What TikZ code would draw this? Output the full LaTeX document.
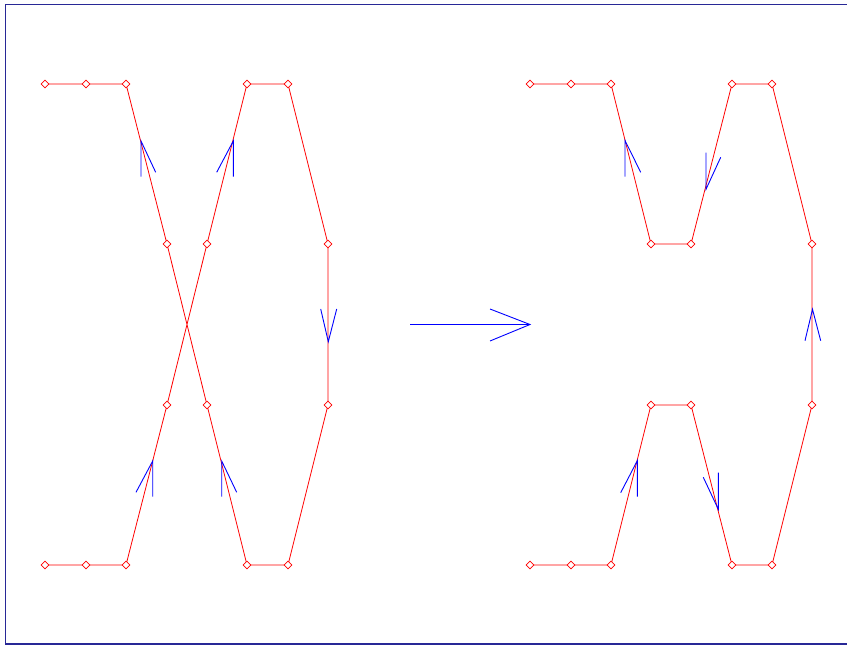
\documentclass[tikz,border=0pt]{standalone}
\usetikzlibrary{shapes.geometric}
\definecolor{framecol}{RGB}{40,40,150}
\definecolor{linered}{RGB}{255,0,0}
\definecolor{arrblue}{RGB}{0,0,255}
\begin{document}
\begin{tikzpicture}[x=1pt,y=-1pt,
  vtx/.style={diamond,draw=linered,line width=0.8pt,fill=white,minimum size=8pt,inner sep=0pt},
  edge/.style={draw=linered,line width=0.8pt},
  wing/.style={draw=arrblue,line width=0.9pt},
  framebox/.style={draw=framecol,line width=1.3pt}]
\useasboundingbox (0,0) rectangle (847,645);
\begin{scope}
\clip (0,0) rectangle (847,645);
\draw[framebox] (5.5,4.5) rectangle (860,644);
\end{scope}
% ---------- left figure ----------
\foreach \n/\x/\y in {a1/45/84,a2/86/84,a3/126/84,a4/167/244,a5/207/405,a6/247/565,a7/288/565,a8/328/405,a9/328/244,a10/288/84,a11/247/84,a12/207/244,a13/167/405,a14/126/565,a15/86/565,a16/45/565}
  \coordinate (\n) at (\x,\y);
\draw[edge] (a1)--(a2)--(a3)--(a4)--(a5)--(a6)--(a7)--(a8)--(a9)--(a10)--(a11)--(a12)--(a13)--(a14)--(a15)--(a16);
\foreach \n in {a1,a2,a3,a4,a5,a6,a7,a8,a9,a10,a11,a12,a13,a14,a15,a16}
  \node[vtx] (v\n) at (\n) {};
% ---------- right figure ----------
\foreach \n/\x/\y in {b1/530/84,b2/571/84,b3/611/84,b4/651/244,b5/691/244,b6/732/84,b7/772/84,b8/812/244,b9/812/405,b10/772/565,b11/732/565,b12/691/405,b13/651/405,b14/611/565,b15/571/565,b16/530/565}
  \coordinate (\n) at (\x,\y);
\draw[edge] (b1)--(b2)--(b3)--(b4)--(b5)--(b6)--(b7)--(b8)--(b9)--(b10)--(b11)--(b12)--(b13)--(b14)--(b15)--(b16);
\foreach \n in {b1,b2,b3,b4,b5,b6,b7,b8,b9,b10,b11,b12,b13,b14,b15,b16}
  \node[vtx] (v\n) at (\n) {};
% ---------- arrowheads on edges ----------
\foreach \tx/\ty/\ax/\ay/\bx/\by in {
   141/141/141/176.7/155.7/172.3,
   233.3/141/233.3/176.7/216.7/172.3,
   152.7/461/152.7/496.7/136/492.3,
   221.7/461/221.7/496.7/236.7/492.3,
   328.3/341.7/320.7/309/336.7/309,
   625/140.5/625/176.7/640.7/172.3,
   706/189.3/706/152.7/720.7/157.3,
   637.3/460.7/637.3/496.7/620.7/492.7,
   718.3/509.3/718.3/472.7/703.3/477.3,
   812.5/309.3/805/340.7/820.7/340.7}
  \draw[wing] (\ax,\ay) -- (\tx,\ty) -- (\bx,\by);
% ---------- big arrow ----------
\coordinate (s) at (410,324.5);
\coordinate (t) at (530,324.5);
\draw[wing] (s) -- (t);
\draw[wing] (490,309) -- (t) -- (490,341);
\end{tikzpicture}
\end{document}
